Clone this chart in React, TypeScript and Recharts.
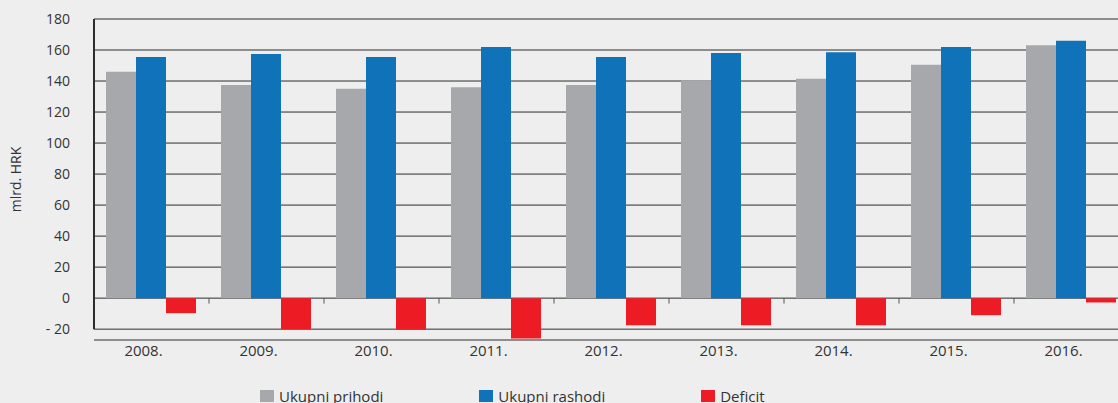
import React from 'react';
import { BarChart, Bar, XAxis, YAxis, CartesianGrid, ReferenceLine } from 'recharts';

const categories = ['2008.', '2009.', '2010.', '2011.', '2012.', '2013.', '2014.', '2015.', '2016.'];
const prihodi = [146, 137.5, 135, 136, 137.5, 140.5, 141.5, 150.5, 163];
const rashodi = [155.5, 157.5, 155.5, 162, 155.5, 158, 158.5, 162, 166];
const deficit = [-9.7, -20, -20.3, -26, -17.5, -17.5, -17.5, -11, -2.8];
const yTicks = [-20, 0, 20, 40, 60, 80, 100, 120, 140, 160, 180];

const COLORS = {
  prihodi: '#a7a8ab',
  rashodi: '#1073ba',
  deficit: '#ed1c24',
};

const legendItems = [
  { label: 'Ukupni prihodi', color: COLORS.prihodi },
  { label: 'Ukupni rashodi', color: COLORS.rashodi },
  { label: 'Deficit', color: COLORS.deficit },
];

const data = categories.map((year, i) => ({
  year,
  prihodi: prihodi[i],
  rashodi: rashodi[i],
  deficit: deficit[i],
}));

const TEXT = '#333333';
const GRID = '#2d2d2d';

function YearTick({ x, y, payload }: any) {
  return (
    <text x={x - 8} y={y} dy={16} textAnchor="middle" fill={TEXT} fontSize={15}>
      {payload.value}
    </text>
  );
}

export default function App() {
  return (
    <div
      style={{
        position: 'absolute',
        left: 0,
        top: 0,
        width: 1118,
        height: 403,
        overflow: 'hidden',
        background: '#eeeeee',
        fontFamily: '"Open Sans", sans-serif',
      }}
    >
      <BarChart
        width={1140}
        height={403}
        data={data}
        margin={{ top: 19, right: 11, left: 0, bottom: 33 }}
        barCategoryGap={12}
        barGap={0}
      >
        <CartesianGrid vertical={false} stroke={GRID} strokeOpacity={1} />
        <XAxis
          dataKey="year"
          height={30}
          axisLine={false}
          tickLine={false}
          tickSize={0}
          tickMargin={0}
          interval={0}
          tick={<YearTick />}
        />
        <YAxis
          width={94}
          domain={[-27, 180]}
          ticks={yTicks}
          interval={0}
          axisLine={false}
          tickLine={false}
          tickSize={0}
          tickMargin={24}
          tick={{ fill: TEXT, fontSize: 14 }}
          tickFormatter={(v: number) => (v < 0 ? `- ${Math.abs(v)}` : `${v}`)}
          label={{
            value: 'mlrd. HRK',
            angle: -90,
            position: 'insideLeft',
            offset: 16,
            fill: TEXT,
            fontSize: 14,
            style: { textAnchor: 'middle' },
          }}
        />
        <Bar dataKey="prihodi" fill={COLORS.prihodi} isAnimationActive={false} />
        <Bar dataKey="rashodi" fill={COLORS.rashodi} isAnimationActive={false} />
        <Bar dataKey="deficit" fill={COLORS.deficit} isAnimationActive={false} />
        <ReferenceLine
          segment={[
            { x: categories[0], y: -20 },
            { x: categories[0], y: 180 },
          ]}
          position="start"
          stroke={GRID}
          strokeWidth={2}
        />
        {categories.map((c) => (
          <ReferenceLine
            key={c}
            segment={[
              { x: c, y: 0 },
              { x: c, y: -3.5 },
            ]}
            position="end"
            stroke="#555555"
          />
        ))}
      </BarChart>
      <div
        style={{
          position: 'absolute',
          top: 386,
          left: 260,
          display: 'flex',
          alignItems: 'center',
          fontSize: 15,
          color: TEXT,
          whiteSpace: 'nowrap',
        }}
      >
        {legendItems.map((item) => (
          <div key={item.label} style={{ display: 'flex', alignItems: 'center', marginRight: 96 }}>
            <span
              style={{
                display: 'inline-block',
                width: 14,
                height: 12,
                background: item.color,
                marginRight: 5,
              }}
            />
            <span>{item.label}</span>
          </div>
        ))}
      </div>
    </div>
  );
}
